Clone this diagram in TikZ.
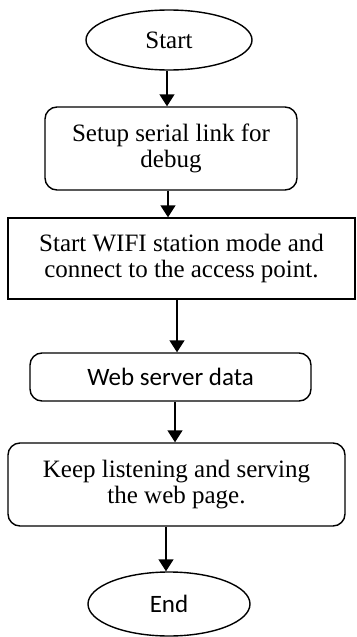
\documentclass[tikz,border=0pt]{standalone}
\usepackage{fontspec}
\setmainfont{Liberation Serif}
\newfontfamily\calibrifont{Carlito}
\usetikzlibrary{shapes.geometric, arrows.meta}
\tikzstyle{arrow} = [line width=1.4pt,-{Triangle[width=15pt,length=12pt]}]
\tikzstyle{terminal} = [ellipse, draw, line width=1.4pt, inner sep=0pt]
\tikzstyle{process} = [rectangle, rounded corners=12pt, draw, line width=1.4pt, inner sep=0pt, align=center]
\tikzstyle{plainbox} = [rectangle, draw, line width=1.4pt, inner sep=0pt, align=center]

\begin{document}
\begin{tikzpicture}[x=1pt, y=-1pt, every node/.style={font=\fontsize{25}{26}\selectfont}]
        \useasboundingbox (0,0) rectangle (356,637);

        \node at (169,40) [terminal, minimum width=166pt, minimum height=60pt](start) {Start};
        \node at (171,148.5) [process, minimum width=252pt, minimum height=83pt](setup) {Setup serial link for\\debug};
        \node at (181.5,258.5) [plainbox, minimum width=347pt, minimum height=81pt](wifi) {Start WIFI station mode and\\connect to the access point.};
        \node at (170.5,377) [process, minimum width=281pt, minimum height=48pt](web) {\calibrifont Web server data};
        \node at (176.5,484.5) [process, minimum width=337pt, minimum height=83pt](keep) {Keep listening and serving\\the web page.};
        \node at (169,604) [terminal, minimum width=162pt, minimum height=64pt](end) {\calibrifont End};

        \draw[arrow] ([xshift=-2pt]start.south) -- ([xshift=-2pt]start.south |- setup.north);
        \draw[arrow] ([xshift=-3pt]setup.south) -- ([xshift=-3pt]setup.south |- wifi.north);
        \draw[arrow] ([xshift=-4.5pt]wifi.south) -- ([xshift=-4.5pt]wifi.south |- web.north);
        \draw[arrow] ([xshift=4.5pt]web.south) -- ([xshift=4.5pt]web.south |- keep.north);
        \draw[arrow] ([xshift=-10.5pt]keep.south) -- ([xshift=-10.5pt]keep.south |- end.north);

    \end{tikzpicture}
\end{document}
